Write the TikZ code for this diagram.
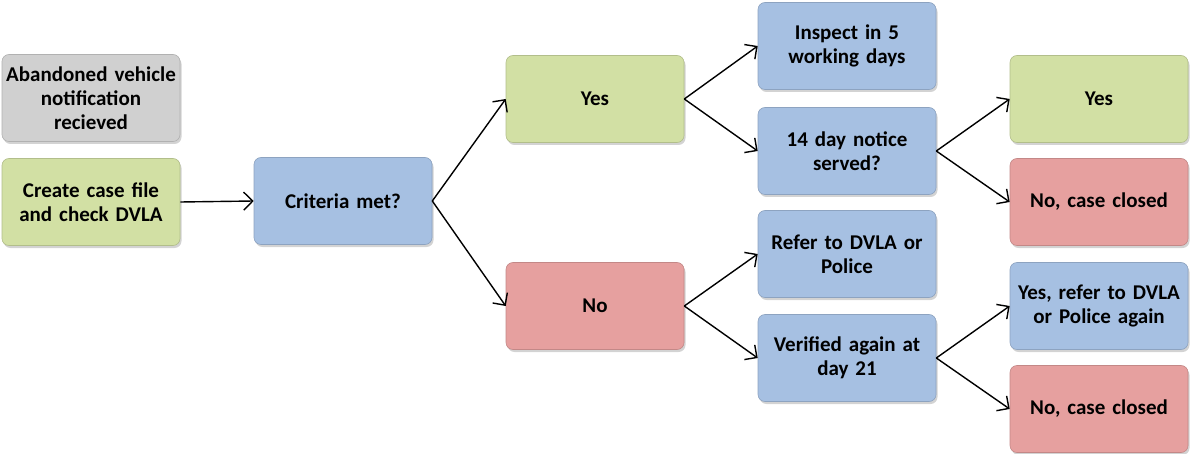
\documentclass[tikz,border=0pt]{standalone}
\usepackage{fontspec}
\setmainfont{Carlito}
\usetikzlibrary{arrows.meta,shadows}
\definecolor{cgray}{HTML}{D0D0D0}
\definecolor{cgreen}{HTML}{D2E0A4}
\definecolor{cblue}{HTML}{A6C0E2}
\definecolor{cred}{HTML}{E6A09F}
\tikzset{
  box/.style={rounded corners=7pt, minimum width=178pt, minimum height=87pt,
    align=center, font=\fontsize{21}{24}\selectfont\bfseries, inner sep=1pt,
    text width=176pt,
    drop shadow={opacity=0.35, shadow xshift=1.5pt, shadow yshift=-2.5pt}},
  graybox/.style={box, fill=cgray, draw=cgray!85!black, line width=0.6pt},
  greenbox/.style={box, fill=cgreen, draw=cgreen!85!black, line width=0.6pt},
  bluebox/.style={box, fill=cblue, draw=cblue!85!black, line width=0.6pt},
  redbox/.style={box, fill=cred, draw=cred!85!black, line width=0.6pt},
  conn/.style={line width=1.4pt, -{Straight Barb[length=9pt,width=18pt,line width=1.4pt]}}
}
\begin{document}
\begin{tikzpicture}[x=1pt,y=-1pt]
\useasboundingbox (0,0) rectangle (1190,454);
\node[graybox] (abandon) at (91,98) {Abandoned vehicle\\notification\\recieved};
\node[greenbox] (create) at (91,202) {Create case file\\and check DVLA};
\node[bluebox] (criteria) at (343,201) {Criteria met?};
\node[greenbox] (yes1) at (595,99) {Yes};
\node[redbox] (no1) at (595,306) {No};
\node[bluebox] (inspect) at (847,46) {Inspect in 5\\working days};
\node[bluebox] (notice) at (847,151) {14 day notice\\served?};
\node[bluebox] (refer) at (847,254) {Refer to DVLA or\\Police};
\node[bluebox] (verified) at (847,358) {Verified again at\\day 21};
\node[greenbox] (yes2) at (1099,99) {Yes};
\node[redbox] (closed1) at (1099,202) {No, case closed};
\node[bluebox] (referagain) at (1099,306) {Yes, refer to DVLA\\or Police again};
\node[redbox] (closed2) at (1099,409) {No, case closed};
\draw[conn] (create.east) -- (criteria.west);
\draw[conn] (criteria.east) -- (yes1.west);
\draw[conn] (criteria.east) -- (no1.west);
\draw[conn] (yes1.east) -- (inspect.west);
\draw[conn] (yes1.east) -- (notice.west);
\draw[conn] (no1.east) -- (refer.west);
\draw[conn] (no1.east) -- (verified.west);
\draw[conn] (notice.east) -- (yes2.west);
\draw[conn] (notice.east) -- (closed1.west);
\draw[conn] (verified.east) -- (referagain.west);
\draw[conn] (verified.east) -- (closed2.west);
\end{tikzpicture}
\end{document}
